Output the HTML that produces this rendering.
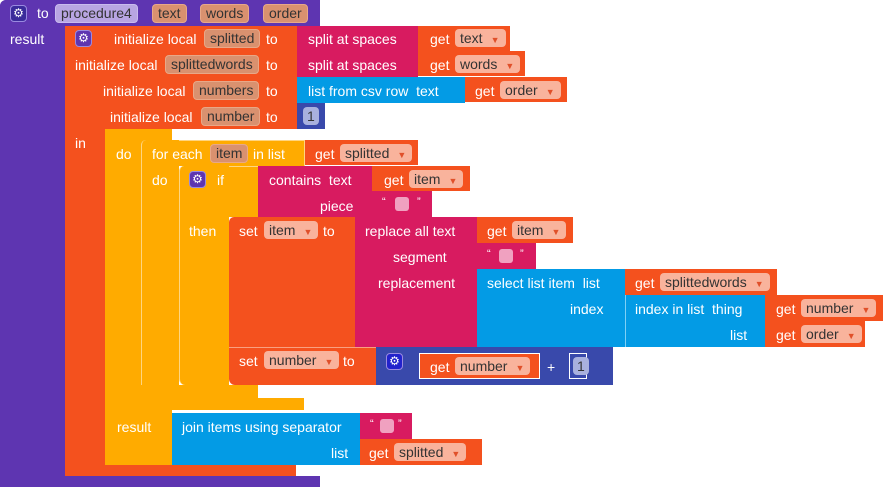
<!DOCTYPE html>
<html><head><style>
body{margin:0;width:883px;height:487px;background:#fff;position:relative;overflow:hidden;font-family:"Liberation Sans",sans-serif;font-size:14px}
div,span{position:absolute;box-sizing:border-box}
.t{color:#fff;white-space:nowrap;line-height:16px}
.p{background:#f9b39c;border-radius:4px;color:#333;height:18px;line-height:18px;padding:0 6px 0 5px;white-space:nowrap}
.p i{font-style:normal;color:#e0502a;font-size:9px;margin-left:8px}
.v{background:#d9916f;border:1px solid #e8a888;border-radius:4px;color:#333;height:19px;line-height:17px;padding:0 5px;white-space:nowrap}
.g{width:17px;height:17px;border-radius:4px;background:#3b2b9b;border:1px solid #9a8ae0;color:#fff;font-size:12px;line-height:15px;text-align:center}
.s{width:14px;height:14px;background:#f0a1c0;border-radius:3px}
</style></head><body>
<!-- purple procedure -->
<div style="left:0;top:0;width:320px;height:26px;background:#5e35b1;border-radius:6px 0 0 0"></div>
<div style="left:0;top:0;width:65px;height:487px;background:#5e35b1;border-radius:6px 0 0 6px"></div>
<div style="left:0;top:476px;width:320px;height:11px;background:#5e35b1"></div>
<span class="g" style="left:10px;top:5px">⚙</span>
<span class="t" style="left:37px;top:5px">to</span>
<span class="v" style="left:55px;top:4px;background:#b8a5e2;border-color:#c9bbee">procedure4</span>
<span class="v" style="left:152px;top:4px">text</span>
<span class="v" style="left:200px;top:4px">words</span>
<span class="v" style="left:263px;top:4px">order</span>
<span class="t" style="left:10px;top:31px">result</span>
<!-- orange init local -->
<div style="left:65px;top:26px;width:232px;height:103px;background:#f4511e"></div>
<div style="left:65px;top:129px;width:40px;height:336px;background:#f4511e"></div>
<div style="left:65px;top:465px;width:231px;height:11px;background:#f4511e"></div>
<span class="g" style="left:75px;top:30px;background:#5e35b1">⚙</span>
<span class="t" style="left:114px;top:31px">initialize local</span>
<span class="v" style="left:204px;top:29px">splitted</span>
<span class="t" style="left:266px;top:31px">to</span>
<span class="t" style="left:75px;top:57px">initialize local</span>
<span class="v" style="left:165px;top:55px">splittedwords</span>
<span class="t" style="left:266px;top:57px">to</span>
<span class="t" style="left:103px;top:83px">initialize local</span>
<span class="v" style="left:193px;top:81px">numbers</span>
<span class="t" style="left:266px;top:83px">to</span>
<span class="t" style="left:110px;top:109px">initialize local</span>
<span class="v" style="left:201px;top:107px">number</span>
<span class="t" style="left:266px;top:109px">to</span>
<span class="t" style="left:75px;top:135px">in</span>
<!-- row values -->
<div style="left:297px;top:26px;width:121px;height:25px;background:#d81b60"></div>
<span class="t" style="left:308px;top:31px">split at spaces</span>
<div style="left:418px;top:26px;width:92px;height:25px;background:#f4511e"></div>
<span class="t" style="left:430px;top:31px">get</span><span class="p" style="left:455px;top:29px">text<i>▼</i></span>
<div style="left:297px;top:51px;width:121px;height:26px;background:#d81b60"></div>
<span class="t" style="left:308px;top:57px">split at spaces</span>
<div style="left:418px;top:51px;width:107px;height:25px;background:#f4511e"></div>
<span class="t" style="left:430px;top:57px">get</span><span class="p" style="left:455px;top:55px">words<i>▼</i></span>
<div style="left:297px;top:77px;width:168px;height:26px;background:#039be5"></div>
<span class="t" style="left:308px;top:83px">list from csv row&nbsp; text</span>
<div style="left:465px;top:77px;width:102px;height:25px;background:#f4511e"></div>
<span class="t" style="left:475px;top:83px">get</span><span class="p" style="left:500px;top:81px">order<i>▼</i></span>
<div style="left:297px;top:103px;width:28px;height:26px;background:#3949ab"></div>
<span class="p" style="left:303px;top:107px;background:#a9b1de;padding:0 4px">1</span>
<!-- yellow do-result -->
<div style="left:105px;top:129px;width:67px;height:336px;background:#ffab00"></div>
<span class="t" style="left:116px;top:146px">do</span>
<div style="left:105px;top:398px;width:199px;height:12px;background:#ffab00"></div>
<span class="t" style="left:117px;top:419px">result</span>
<!-- for each -->
<div style="left:141px;top:140px;width:164px;height:26px;background:#ffab00;border:1px solid #ffd580;border-bottom:none;border-radius:5px 0 0 0"></div>
<div style="left:141px;top:140px;width:38px;height:258px;background:#ffab00;border-left:1px solid #ffd580;border-radius:5px 0 0 6px"></div>
<div style="left:141px;top:385px;width:117px;height:13px;background:#ffab00"></div>
<span class="t" style="left:152px;top:146px">for each</span>
<span class="v" style="left:210px;top:144px">item</span>
<span class="t" style="left:253px;top:146px">in list</span>
<div style="left:305px;top:140px;width:113px;height:25px;background:#f4511e"></div>
<span class="t" style="left:315px;top:146px">get</span><span class="p" style="left:340px;top:144px">splitted<i>▼</i></span>
<span class="t" style="left:152px;top:172px">do</span>
<!-- if -->
<div style="left:179px;top:166px;width:80px;height:51px;background:#ffab00;border:1px solid #ffd580;border-right:none;border-bottom:none;border-radius:5px 0 0 0"></div>
<div style="left:179px;top:166px;width:50px;height:219px;background:#ffab00;border-left:1px solid #ffd580;border-radius:5px 0 0 6px"></div>
<span class="g" style="left:189px;top:171px;background:#5e35b1">⚙</span>
<span class="t" style="left:217px;top:172px">if</span>
<span class="t" style="left:189px;top:223px">then</span>
<div style="left:258px;top:166px;width:114px;height:51px;background:#d81b60"></div>
<span class="t" style="left:269px;top:172px">contains&nbsp; text</span>
<span class="t" style="left:320px;top:198px">piece</span>
<div style="left:372px;top:166px;width:98px;height:25px;background:#f4511e"></div>
<span class="t" style="left:384px;top:172px">get</span><span class="p" style="left:409px;top:170px">item<i>▼</i></span>
<div style="left:372px;top:191px;width:60px;height:26px;background:#d81b60"></div>
<span class="t" style="left:382px;top:194px;font-size:11px">“</span><span class="s" style="left:395px;top:197px"></span><span class="t" style="left:417px;top:194px;font-size:11px">”</span>
<!-- set item -->
<div style="left:229px;top:217px;width:126px;height:130px;background:#f4511e;border-radius:5px 0 0 0"></div>
<span class="t" style="left:239px;top:223px">set</span><span class="p" style="left:264px;top:221px">item<i>▼</i></span>
<span class="t" style="left:323px;top:223px">to</span>
<div style="left:355px;top:217px;width:122px;height:130px;background:#d81b60"></div>
<span class="t" style="left:365px;top:223px">replace all text</span>
<span class="t" style="left:393px;top:249px">segment</span>
<span class="t" style="left:378px;top:275px">replacement</span>
<div style="left:477px;top:217px;width:96px;height:26px;background:#f4511e"></div>
<span class="t" style="left:487px;top:223px">get</span><span class="p" style="left:512px;top:221px">item<i>▼</i></span>
<div style="left:477px;top:243px;width:59px;height:26px;background:#d81b60"></div>
<span class="t" style="left:487px;top:246px;font-size:11px">“</span><span class="s" style="left:499px;top:249px"></span><span class="t" style="left:520px;top:246px;font-size:11px">”</span>
<div style="left:477px;top:269px;width:148px;height:78px;background:#039be5"></div>
<span class="t" style="left:487px;top:275px">select list item&nbsp; list</span>
<span class="t" style="left:570px;top:301px">index</span>
<div style="left:625px;top:269px;width:152px;height:26px;background:#f4511e"></div>
<span class="t" style="left:635px;top:275px">get</span><span class="p" style="left:660px;top:273px">splittedwords<i>▼</i></span>
<div style="left:625px;top:295px;width:140px;height:52px;background:#039be5;border-left:1px solid #7fd0f5"></div>
<span class="t" style="left:635px;top:301px">index in list&nbsp; thing</span>
<span class="t" style="left:730px;top:327px">list</span>
<div style="left:765px;top:295px;width:118px;height:26px;background:#f4511e"></div>
<span class="t" style="left:776px;top:301px">get</span><span class="p" style="left:801px;top:299px">number<i>▼</i></span>
<div style="left:765px;top:321px;width:100px;height:26px;background:#f4511e"></div>
<span class="t" style="left:776px;top:327px">get</span><span class="p" style="left:801px;top:325px">order<i>▼</i></span>
<!-- set number -->
<div style="left:229px;top:347px;width:147px;height:38px;background:#f4511e;border-top:1px solid #f9a080;border-radius:0 0 0 6px"></div>
<span class="t" style="left:239px;top:353px">set</span><span class="p" style="left:264px;top:351px">number<i>▼</i></span>
<span class="t" style="left:343px;top:353px">to</span>
<div style="left:376px;top:347px;width:237px;height:38px;background:#3949ab"></div>
<span class="g" style="left:386px;top:353px;background:#2222cc">⚙</span>
<div style="left:419px;top:353px;width:121px;height:26px;background:#f4511e;border:1px solid #fff"></div>
<span class="t" style="left:430px;top:359px">get</span><span class="p" style="left:455px;top:357px">number<i>▼</i></span>
<span class="t" style="left:547px;top:359px">+</span>
<div style="left:569px;top:353px;width:18px;height:26px;border:1px solid #fff"></div>
<span class="p" style="left:573px;top:357px;background:#a9b1de;padding:0 4px">1</span>
<!-- join -->
<div style="left:172px;top:413px;width:188px;height:52px;background:#039be5"></div>
<span class="t" style="left:182px;top:419px">join items using separator</span>
<span class="t" style="left:331px;top:445px">list</span>
<div style="left:360px;top:413px;width:52px;height:26px;background:#d81b60"></div>
<span class="t" style="left:370px;top:416px;font-size:11px">“</span><span class="s" style="left:380px;top:419px"></span><span class="t" style="left:398px;top:416px;font-size:11px">”</span>
<div style="left:360px;top:439px;width:122px;height:26px;background:#f4511e"></div>
<span class="t" style="left:369px;top:445px">get</span><span class="p" style="left:394px;top:443px">splitted<i>▼</i></span>
</body></html>
